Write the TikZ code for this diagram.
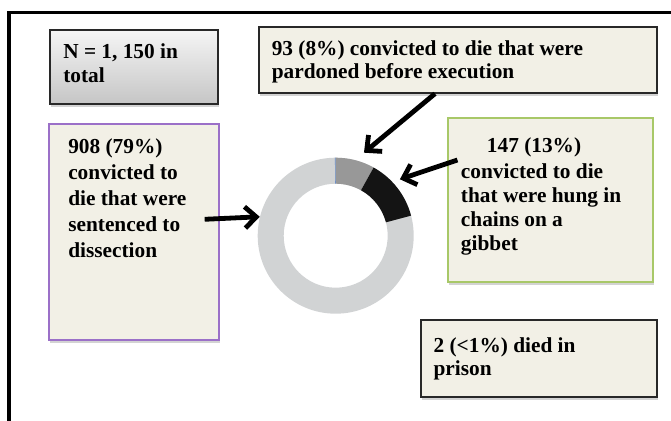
\documentclass[tikz,border=0pt]{standalone}
\usepackage{fontspec}
\setmainfont{Liberation Serif}
\usetikzlibrary{arrows.meta,shadows}

\definecolor{paper}{RGB}{242,240,230}
\definecolor{boxline}{RGB}{40,40,40}
\definecolor{purpleline}{RGB}{155,112,200}
\definecolor{greenline}{RGB}{168,200,104}
\definecolor{ringlight}{RGB}{209,211,212}
\definecolor{ringmid}{RGB}{152,152,152}
\definecolor{ringdark}{RGB}{20,20,20}
\definecolor{ringblue}{RGB}{109,143,199}

\begin{document}
\begin{tikzpicture}[x=0.75pt,y=0.75pt,
    box/.style={draw=boxline, rectangle, inner sep=0pt, fill=paper, line width=1pt,
      drop shadow={shadow xshift=0.8pt, shadow yshift=-2pt, opacity=0.35}},
    words/.style={anchor=north west, inner sep=0pt, align=left,
      font=\bfseries\fontsize{16}{17.5}\selectfont},
    pointer/.style={line width=3.6pt, -{Straight Barb[length=8.5pt,width=16pt]}}]
    \useasboundingbox (0,0) rectangle (671,421);
    % frame
    \draw[line width=2.3pt] (9,-5) -- (9,408.3) -- (676,408.3);
    % boxes
    \node[box, top color=gray!8, bottom color=gray!45, minimum width=126pt, minimum height=55.5pt] (total) at (134,354) {};
    \node[box, minimum width=298.5pt, minimum height=49.5pt] (pardoned) at (458,361) {};
    \node[box, draw=purpleline, minimum width=127.5pt, minimum height=162pt] (dissection) at (134,189) {};
    \node[box, draw=greenline, line width=1.3pt, minimum width=153.75pt, minimum height=123pt] (gibbet) at (550.5,221) {};
    \node[box, minimum width=177pt, minimum height=57.75pt] (prison) at (539,62.5) {};
    % texts
    \node[words, font=\bfseries\fontsize{16}{18}\selectfont] (total text) at (63,377.4) {N = 1, 150 in\\total};
    \node[words] (pardoned text) at (271.5,380.5) {93 (8\%) convicted to die that were\\pardoned before execution};
    \node[words, font=\bfseries\fontsize{16}{19.5}\selectfont] (dissection text) at (68,282.2) {908 (79\%)\\convicted to\\die that were\\sentenced to\\dissection};
    \node[words, font=\bfseries\fontsize{16}{18}\selectfont] (gibbet text) at (460.7,283.8) {\hspace*{19.5pt}147 (13\%)\\[2pt]convicted to die\\that were hung in\\chains on a\\gibbet};
    \node[words] (prison text) at (433.3,83.8) {2 (<1\%) died in\\prison};
    % ring
    \node[circle, inner sep=0pt, minimum size=117pt] (ring) at (335.7,185.3) {};
    \begin{scope}[shift={(ring.center)}]
        \fill[ringlight, even odd rule] (0,0) circle[radius=78] (0,0) circle[radius=52];
        \fill[ringmid] (90:78) arc[start angle=90, end angle=60.9, radius=78] -- (60.9:52) arc[start angle=60.9, end angle=90, radius=52] -- cycle;
        \fill[ringdark] (60.9:78) arc[start angle=60.9, end angle=14.9, radius=78] -- (14.9:52) arc[start angle=14.9, end angle=60.9, radius=52] -- cycle;
        \draw[ringblue, line width=0.5pt] (90.3:52) -- (90.3:78);
    \end{scope}
    \coordinate (pardon tip) at ([shift={(71.2:87.7)}]ring.center);
    \coordinate (gibbet tip) at ([shift={(41.3:85.5)}]ring.center);
    % arrows
    \draw[pointer] ([shift={(-15,12.7)}]dissection.east) -- (ring.166);
    \draw[pointer] ([shift={(-23,0)}]pardoned.south) -- (pardon tip);
    \draw[pointer] ([shift={(10.3,40)}]gibbet.west) -- (gibbet tip);
\end{tikzpicture}
\end{document}
